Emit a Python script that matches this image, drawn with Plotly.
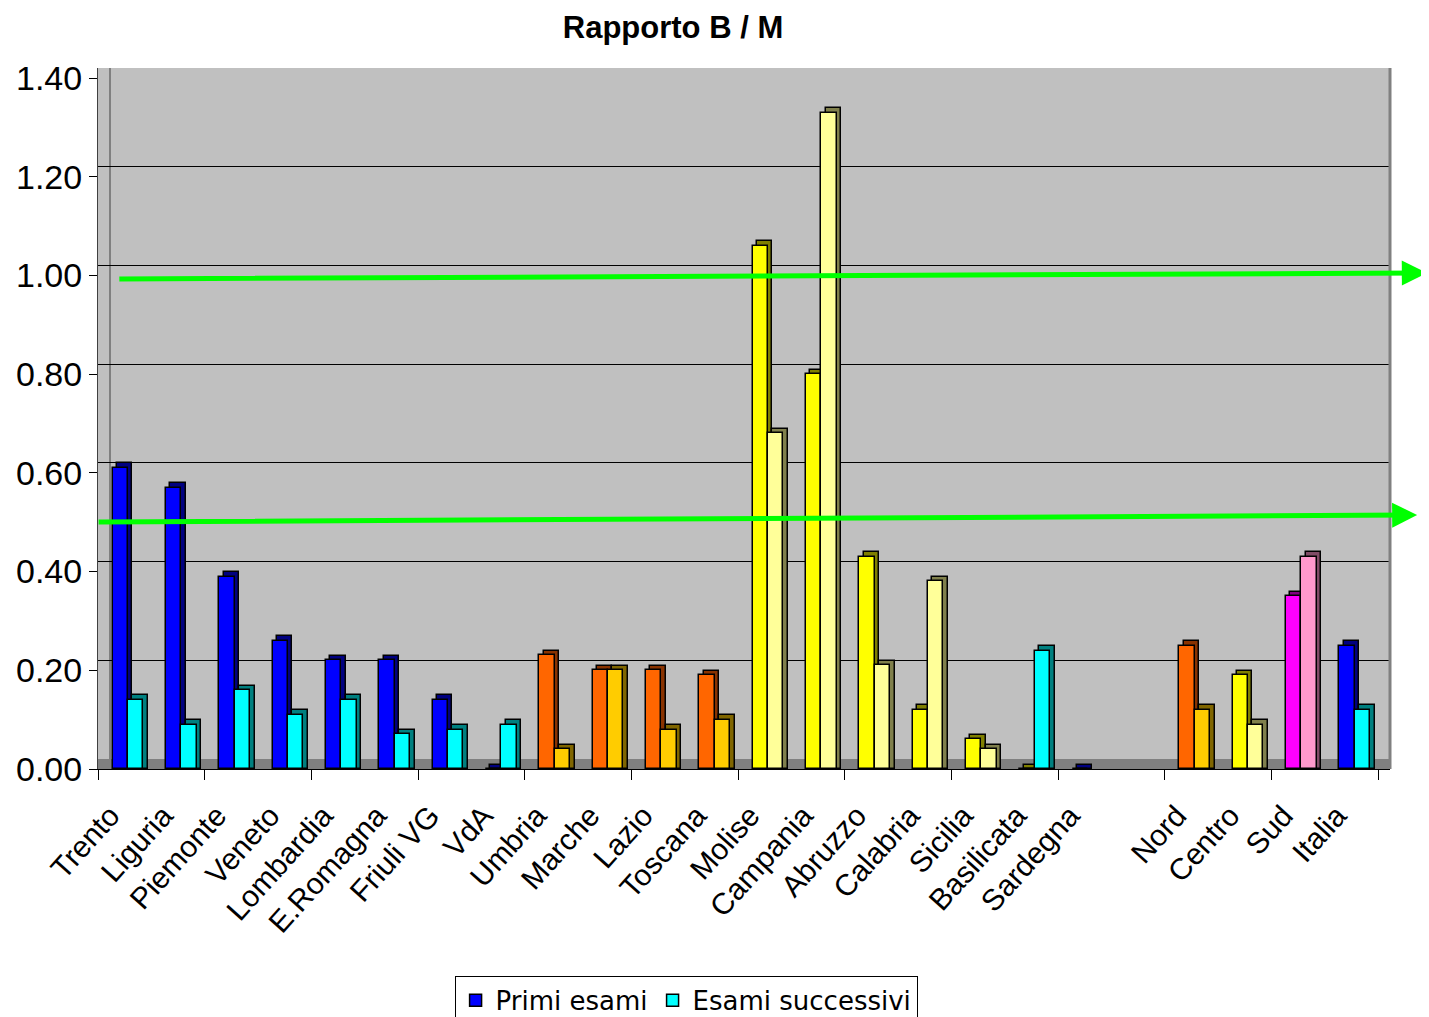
import plotly.graph_objects as go

# ---------------- data ----------------
categories = ["Trento", "Liguria", "Piemonte", "Veneto", "Lombardia", "E.Romagna",
              "Friuli VG", "VdA", "Umbria", "Marche", "Lazio", "Toscana", "Molise",
              "Campania", "Abruzzo", "Calabria", "Sicilia", "Basilicata", "Sardegna",
              "", "Nord", "Centro", "Sud", "Italia"]
primi_esami = [0.61, 0.57, 0.39, 0.26, 0.22, 0.22, 0.14, 0.00, 0.23, 0.20, 0.20, 0.19,
               1.06, 0.80, 0.43, 0.12, 0.06, 0.00, 0.00, None, 0.25, 0.19, 0.35, 0.25]
esami_successivi = [0.14, 0.09, 0.16, 0.11, 0.14, 0.07, 0.08, 0.09, 0.04, 0.20, 0.08, 0.10,
                    0.68, 1.33, 0.21, 0.38, 0.04, 0.24, None, None, 0.12, 0.09, 0.43, 0.12]
y_ticks = [0.0, 0.2, 0.4, 0.6, 0.8, 1.0, 1.2, 1.4]

# ---------------- styling ----------------
BLUE, CYAN = "#0000FF", "#00FFFF"
ORANGE, GOLD = "#FF6600", "#FFCC00"
YELLOW, LIGHTY = "#FFFF00", "#FFFF99"
MAGENTA, PINK = "#FF00FF", "#FF99CC"
side = {BLUE: "#000080", CYAN: "#008080", ORANGE: "#8A3300", GOLD: "#806600",
        YELLOW: "#808000", LIGHTY: "#80804C", MAGENTA: "#800080", PINK: "#804C66"}

colors1 = [BLUE] * 8 + [ORANGE] * 4 + [YELLOW] * 6 + [BLUE, BLUE, ORANGE, YELLOW, MAGENTA, BLUE]
colors2 = [CYAN] * 8 + [GOLD] * 4 + [LIGHTY] * 5 + [CYAN, CYAN, CYAN, GOLD, LIGHTY, PINK, CYAN]

FONT = "Liberation Sans, Arial, sans-serif"
W = 0.29          # bar width (category units)
OFF1, OFF2 = -0.083, 0.207
DX, DY = 0.084, 0.0091   # pseudo-3D depth offsets
FLOOR = 0.0203
LABEL_SHIFT = -0.27

# page body has an 8px margin: figure is sized so the plot lands where the reference has it
FW, FH = 1421, 1009

idx = list(range(len(categories)))
fig = go.Figure()

def add_series(vals, cols, off, name, legend):
    xs = [i + off for i in idx]
    # depth face (drawn behind)
    fig.add_trace(go.Bar(
        x=[x + DX for x in xs],
        y=[None if v is None else v + DY for v in vals],
        base=0, width=W,
        marker=dict(color=[side[c] for c in cols], line=dict(color="black", width=1.5)),
        showlegend=False, hoverinfo="skip"))
    # front face
    fig.add_trace(go.Bar(
        x=xs, y=vals, width=W, name=name, showlegend=legend,
        marker=dict(color=cols, line=dict(color="black", width=1.5))))

add_series(primi_esami, colors1, OFF1, "Primi esami", True)
add_series(esami_successivi, colors2, OFF2, "Esami successivi", True)

# helper trace for overlay axes (back-wall gridlines + boundary ticks)
fig.add_trace(go.Scatter(x=[None], y=[None], xaxis="x2", yaxis="y2",
                         showlegend=False, hoverinfo="skip"))

xr = [-0.5, 23.725]
fig.update_layout(
    width=FW, height=FH,
    paper_bgcolor="white", plot_bgcolor="#C0C0C0",
    margin=dict(l=90, r=39, t=60, b=248, autoexpand=False),
    barmode="overlay", bargap=0,
    font=dict(family=FONT, color="black"),
    title=dict(text="<b>Rapporto B / M</b>", font=dict(size=31, family=FONT, color="black"),
               x=665 / FW, xref="container", y=1 - 19 / FH, yref="container",
               xanchor="center", yanchor="middle", automargin=False),
    xaxis=dict(range=xr, tickmode="array", tickvals=[i + LABEL_SHIFT for i in idx], ticktext=categories,
               tickangle=-48, tickfont=dict(size=30, family=FONT), ticks="",
               ticklabelstandoff=16, showline=True, linecolor="black", linewidth=1,
               showgrid=False, zeroline=False, automargin=False),
    xaxis2=dict(range=xr, overlaying="x", tickmode="array",
                tickvals=[-0.5 + 2 * k for k in range(13)], ticks="outside", ticklen=10,
                tickcolor="black", showticklabels=False, showgrid=False, zeroline=False,
                side="bottom", showline=False, automargin=False),
    yaxis=dict(range=[0, 1.4203], tickmode="array", tickvals=y_ticks, tickformat=".2f",
               tickfont=dict(size=34, family=FONT), ticks="outside", ticklen=8,
               tickcolor="black", showline=True, linecolor="#404040", linewidth=1,
               showgrid=False, zeroline=False, automargin=False),
    yaxis2=dict(range=[-FLOOR, 1.4], overlaying="y", tickmode="array", tickvals=y_ticks[1:],
                showticklabels=False, ticks="", showgrid=True, gridcolor="black",
                gridwidth=1, zeroline=False, showline=False, automargin=False),
    legend=dict(orientation="h", x=0.276, xanchor="left", y=-0.295, yanchor="top",
                bordercolor="black", borderwidth=1, bgcolor="white",
                font=dict(size=26, family="DejaVu Sans, sans-serif"), itemwidth=30,
                tracegroupgap=0),
    shapes=[
        # floor of the 3D box
        dict(type="rect", xref="paper", yref="y", x0=0, x1=1, y0=0, y1=FLOOR,
             fillcolor="#808080", line=dict(width=0), layer="below"),
        # side wall edge and right wall edge
        dict(type="line", xref="paper", yref="paper", x0=12 / 1292, x1=12 / 1292, y0=FLOOR / 1.4203, y1=1,
             line=dict(color="#808080", width=2), layer="below"),
        dict(type="line", xref="paper", yref="paper", x0=1, x1=1, y0=0, y1=1,
             line=dict(color="#808080", width=3)),
    ],
    annotations=[
        dict(xref="paper", yref="paper", x=1.0285, y=0.7076, ax=-1309, ay=6,
             showarrow=True, arrowhead=2, arrowsize=1.0, arrowwidth=5, arrowcolor="#00FF00", text=""),
        dict(xref="paper", yref="paper", x=1.021, y=0.3623, ax=-1320, ay=7,
             showarrow=True, arrowhead=2, arrowsize=1.0, arrowwidth=5, arrowcolor="#00FF00", text=""),
    ],
)

fig.write_html("out.html")
